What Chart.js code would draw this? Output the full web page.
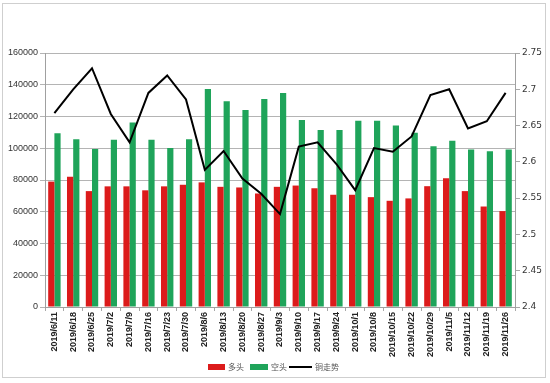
<!DOCTYPE html>
<html>
<head>
<meta charset="utf-8">
<script src="https://cdn.jsdelivr.net/npm/chart.js@4/dist/chart.umd.min.js"></script>
<style>
html,body{margin:0;padding:0;background:#fff;}
#wrap{width:550px;height:383px;position:relative;}
</style>
</head>
<body>
<div id="wrap"><canvas id="c" width="550" height="383"></canvas></div>
<script>
const categories = ['2019/6/11','2019/6/18','2019/6/25','2019/7/2','2019/7/9','2019/7/16','2019/7/23','2019/7/30','2019/8/6','2019/8/13','2019/8/20','2019/8/27','2019/9/3','2019/9/10','2019/9/17','2019/9/24','2019/10/1','2019/10/8','2019/10/15','2019/10/22','2019/10/29','2019/11/5','2019/11/12','2019/11/19','2019/11/26'];
const longPos = [79000, 82000, 73000, 76000, 76000, 73500, 76000, 77000, 78500, 75700, 75300, 71500, 75700, 76500, 74800, 70700, 70700, 69200, 66900, 68400, 76100, 81100, 73000, 63300, 60400];
const shortPos = [109400, 105700, 99600, 105300, 116200, 105300, 100200, 105700, 137300, 129600, 124100, 131000, 134800, 117800, 111500, 111500, 117400, 117400, 114300, 109700, 101300, 104800, 99200, 98100, 99200];
const copper = [2.667, 2.700, 2.729, 2.666, 2.627, 2.695, 2.719, 2.686, 2.589, 2.615, 2.577, 2.556, 2.528, 2.621, 2.627, 2.597, 2.561, 2.619, 2.614, 2.635, 2.692, 2.700, 2.646, 2.656, 2.695];
const leftTicks = [0, 20000, 40000, 60000, 80000, 100000, 120000, 140000, 160000];
const rightTicks = ['2.4','2.45','2.5','2.55','2.6','2.65','2.7','2.75'];
const seriesNames = ['多头', '空头', '铜走势'];

const RED = '#dc1b1b', GREEN = '#1fa45a';

const framePlugin = {
  id: 'frame',
  beforeDraw(chart) {
    const ctx = chart.ctx;
    ctx.save();
    ctx.fillStyle = '#fff';
    ctx.fillRect(0, 0, chart.width, chart.height);
    ctx.strokeStyle = '#cfcfcf';
    ctx.lineWidth = 1;
    ctx.strokeRect(2.5, 3.5, 543, 374);
    ctx.restore();
  }
};

const legendPlugin = {
  id: 'customLegend',
  afterDraw(chart) {
    const ctx = chart.ctx;
    ctx.save();
    ctx.font = '8px "Noto Sans CJK SC"';
    ctx.textBaseline = 'middle';
    const y = 367;
    ctx.fillStyle = RED;
    ctx.fillRect(208, y - 3, 17, 6);
    ctx.fillStyle = '#555';
    ctx.fillText(seriesNames[0], 228, y);
    ctx.fillStyle = GREEN;
    ctx.fillRect(250, y - 3, 18, 6);
    ctx.fillStyle = '#555';
    ctx.fillText(seriesNames[1], 271, y);
    ctx.strokeStyle = '#000';
    ctx.lineWidth = 2;
    ctx.beginPath();
    ctx.moveTo(289, y);
    ctx.lineTo(312, y);
    ctx.stroke();
    ctx.fillText(seriesNames[2], 315, y);
    ctx.restore();
  }
};

new Chart(document.getElementById('c'), {
  type: 'bar',
  data: {
    labels: categories,
    datasets: [
      { type: 'line', label: seriesNames[2], data: copper, yAxisID: 'y2', borderColor: '#000', backgroundColor: '#000', borderWidth: 2, pointRadius: 0, tension: 0, order: 0 },
      { label: seriesNames[0], data: longPos, yAxisID: 'y', backgroundColor: RED, categoryPercentage: 0.66, barPercentage: 1.0, order: 1 },
      { label: seriesNames[1], data: shortPos, yAxisID: 'y', backgroundColor: GREEN, categoryPercentage: 0.66, barPercentage: 1.0, order: 1 }
    ]
  },
  options: {
    responsive: false,
    animation: false,
    layout: { padding: { top: 53, left: 0, right: 0, bottom: 0 } },
    plugins: { legend: { display: false }, tooltip: { enabled: false } },
    scales: {
      x: {
        offset: true,
        grid: { display: true, drawOnChartArea: false, drawTicks: true, tickLength: 4, color: '#a8a8a8', offset: true },
        border: { display: true, color: '#a0a0a0' },
        ticks: { autoSkip: false, minRotation: 90, maxRotation: 90, padding: 1, color: '#222', font: { family: 'Liberation Sans', size: 9, weight: 'bold' } },
        afterFit(s) { s.height = 76; }
      },
      y: {
        position: 'left',
        min: 0, max: 160000,
        afterBuildTicks(s) { s.ticks = leftTicks.map(v => ({ value: v })); },
        grid: { color: '#b4b4b4', tickLength: 5 },
        border: { display: true, color: '#a0a0a0' },
        ticks: { padding: 2, color: '#333', font: { family: 'Liberation Sans', size: 9 }, callback: (v) => String(v) },
        afterFit(s) { s.width = 45; }
      },
      y2: {
        position: 'right',
        min: 2.4, max: 2.75,
        afterBuildTicks(s) { s.ticks = rightTicks.map(v => ({ value: parseFloat(v) })); },
        grid: { drawOnChartArea: false, color: '#a8a8a8', tickLength: 5 },
        border: { display: true, color: '#a0a0a0' },
        ticks: { padding: 2, color: '#333', font: { family: 'DejaVu Sans', size: 9 }, callback: (v) => rightTicks.find(t => Math.abs(parseFloat(t) - v) < 1e-9) || String(v) },
        afterFit(s) { s.width = 35; }
      }
    }
  },
  plugins: [framePlugin, legendPlugin]
});
</script>
</body>
</html>
